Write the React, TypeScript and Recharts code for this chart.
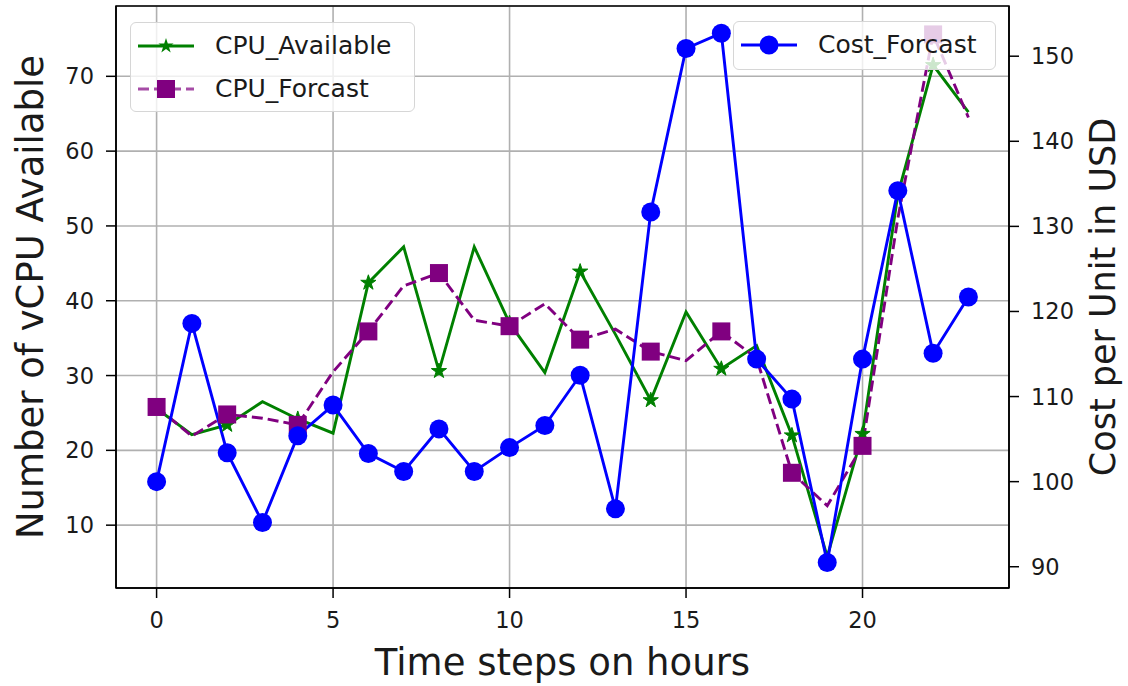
import React from 'react';
import {
  LineChart,
  Line,
  XAxis,
  YAxis,
  CartesianGrid,
  ReferenceArea,
} from 'recharts';

const HOURS = [0, 1, 2, 3, 4, 5, 6, 7, 8, 9, 10, 11, 12, 13, 14, 15, 16, 17, 18, 19, 20, 21, 22, 23];

const CPU_AVAILABLE = [
  25.6, 22.1, 23.4, 26.5, 24.2, 22.3, 42.4, 47.2, 30.6, 47.2, 37.0, 30.4,
  43.9, 35.5, 26.7, 38.5, 30.9, 34.0, 22.0, 5.8, 22.2, 54.2, 71.5, 65.2,
];

const CPU_FORCAST = [
  25.8, 21.9, 24.8, 24.3, 23.4, 30.5, 35.9, 42.0, 43.7, 37.4, 36.6, 39.6,
  34.8, 36.2, 33.2, 32.0, 35.9, 32.3, 17.0, 12.6, 20.6, 51.0, 75.6, 64.5,
];

const COST_FORCAST = [
  100.0, 118.6, 103.4, 95.2, 105.4, 109.0, 103.3, 101.2, 106.2, 101.2, 104.0, 106.6,
  112.5, 96.8, 131.7, 150.9, 152.7, 114.4, 109.7, 90.5, 114.4, 134.2, 115.1, 121.7,
];

const X_TICKS = [0, 5, 10, 15, 20];
const CPU_TICKS = [10, 20, 30, 40, 50, 60, 70];
const COST_TICKS = [90, 100, 110, 120, 130, 140, 150];

const X_DOMAIN: [number, number] = [-1.15, 24.15];
const CPU_DOMAIN: [number, number] = [1.6, 79.4];
const COST_DOMAIN: [number, number] = [87.5, 155.9];

// markers are drawn on every 2nd point of the CPU series
const MARK_EVERY = 2;

const GREEN = '#008000';
const PURPLE = '#800080';
const BLUE = '#0000ff';
const FONT = '"DejaVu Sans", Verdana, sans-serif';
const TEXT = '#1a1a1a';
const LINE_W = 2.9;

const data = HOURS.map((h, i) => ({
  hour: h,
  available: CPU_AVAILABLE[i],
  forcast: CPU_FORCAST[i],
  cost: COST_FORCAST[i],
}));

function starPath(cx: number, cy: number, R: number) {
  const r = R * 0.382;
  let d = '';
  for (let k = 0; k < 10; k++) {
    const rad = k % 2 === 0 ? R : r;
    const a = -Math.PI / 2 + (k * Math.PI) / 5;
    d += (k === 0 ? 'M' : 'L') + (cx + rad * Math.cos(a)).toFixed(2) + ',' + (cy + rad * Math.sin(a)).toFixed(2);
  }
  return d + 'Z';
}

const StarDot = (props: any) => {
  const { cx, cy, index } = props;
  if (cx == null || cy == null || index % MARK_EVERY !== 0) return <g key={`s-${index}`} />;
  return <path key={`s-${index}`} d={starPath(cx, cy, 8)} fill={GREEN} stroke={GREEN} strokeWidth={1} />;
};

const SquareDot = (props: any) => {
  const { cx, cy, index } = props;
  if (cx == null || cy == null || index % MARK_EVERY !== 0) return <g key={`q-${index}`} />;
  return <rect key={`q-${index}`} x={cx - 9} y={cy - 9} width={18} height={18} fill={PURPLE} />;
};

const CircleDot = (props: any) => {
  const { cx, cy, index } = props;
  if (cx == null || cy == null) return <g key={`c-${index}`} />;
  return <circle key={`c-${index}`} cx={cx} cy={cy} r={9.5} fill={BLUE} />;
};

const tickStyle = { fontSize: 22.5, fontFamily: FONT, fill: TEXT };
const labelStyle = { fontSize: 37, fontFamily: FONT, fill: TEXT };

function LegendIcon({ kind }: { kind: 'star' | 'square' | 'circle' }) {
  const color = kind === 'star' ? GREEN : kind === 'square' ? PURPLE : BLUE;
  return (
    <svg width={58} height={22} style={{ display: 'block' }}>
      <line
        x1={1}
        x2={57}
        y1={11}
        y2={11}
        stroke={color}
        strokeWidth={LINE_W}
        strokeDasharray={kind === 'square' ? '11 5' : undefined}
        strokeOpacity={kind === 'square' ? 0.7 : 1}
      />
      {kind === 'star' && <path d={starPath(29, 11, 8)} fill={color} />}
      {kind === 'square' && <rect x={20} y={2} width={18} height={18} fill={color} />}
      {kind === 'circle' && <circle cx={29} cy={11} r={9.5} fill={color} />}
    </svg>
  );
}

const legendBox: React.CSSProperties = {
  position: 'absolute',
  background: 'rgba(255,255,255,0.8)',
  border: '1.5px solid #d6d6d6',
  borderRadius: 6,
  boxSizing: 'border-box',
  fontFamily: FONT,
  fontSize: 25,
  color: TEXT,
};

function LegendRow({ kind, text, top }: { kind: 'star' | 'square' | 'circle'; text: string; top: number }) {
  return (
    <div style={{ position: 'absolute', left: 6, top, display: 'flex', alignItems: 'center', height: 30 }}>
      <LegendIcon kind={kind} />
      <span style={{ marginLeft: 20, lineHeight: '30px', whiteSpace: 'nowrap' }}>{text}</span>
    </div>
  );
}

export default function App() {
  return (
    <div style={{ position: 'absolute', left: 0, top: 0, width: 1128, height: 686, background: '#fff' }}>
      <LineChart width={1128} height={686} data={data} margin={{ top: 6, right: 0, bottom: 0, left: 0 }}>
        <CartesianGrid stroke="#b0b0b0" strokeWidth={1.6} yAxisId="left" />
        <XAxis
          dataKey="hour"
          type="number"
          domain={X_DOMAIN}
          ticks={X_TICKS}
          allowDataOverflow
          height={98}
          tickSize={10}
          tickMargin={14}
          tick={tickStyle}
          axisLine={{ stroke: '#000', strokeWidth: 1.5 }}
          tickLine={{ stroke: '#000', strokeWidth: 1.5 }}
          label={{
            content: (p: any) => {
              const vb = p.viewBox ?? { x: 116, y: 588, width: 893, height: 98 };
              return (
                <text x={vb.x + vb.width / 2} y={vb.y + 87} textAnchor="middle" style={labelStyle}>
                  Time steps on hours
                </text>
              );
            },
          }}
        />
        <YAxis
          yAxisId="left"
          orientation="left"
          domain={CPU_DOMAIN}
          ticks={CPU_TICKS}
          allowDataOverflow
          width={116}
          tickSize={10}
          tickMargin={12}
          tick={tickStyle}
          axisLine={{ stroke: '#000', strokeWidth: 1.5 }}
          tickLine={{ stroke: '#000', strokeWidth: 1.5 }}
          label={{
            content: (p: any) => {
              const vb = p.viewBox ?? { x: 0, y: 6, width: 116, height: 582 };
              const x = vb.x + 43;
              const y = vb.y + vb.height / 2;
              return (
                <text x={x} y={y} transform={`rotate(-90 ${x} ${y})`} textAnchor="middle" style={labelStyle}>
                  Number of vCPU Available
                </text>
              );
            },
          }}
        />
        <YAxis
          yAxisId="right"
          orientation="right"
          domain={COST_DOMAIN}
          ticks={COST_TICKS}
          allowDataOverflow
          width={119}
          tickSize={10}
          tickMargin={12}
          tick={tickStyle}
          axisLine={{ stroke: '#000', strokeWidth: 1.5 }}
          tickLine={{ stroke: '#000', strokeWidth: 1.5 }}
          label={{
            content: (p: any) => {
              const vb = p.viewBox ?? { x: 1009, y: 6, width: 119, height: 582 };
              const x = vb.x + 106;
              const y = vb.y + vb.height / 2;
              return (
                <text x={x} y={y} transform={`rotate(-90 ${x} ${y})`} textAnchor="middle" style={{ ...labelStyle, fontSize: 35 }}>
                  Cost per Unit in USD
                </text>
              );
            },
          }}
        />
        <ReferenceArea
          yAxisId="left"
          x1={X_DOMAIN[0]}
          x2={X_DOMAIN[1]}
          y1={CPU_DOMAIN[0]}
          y2={CPU_DOMAIN[1]}
          fill="none"
          fillOpacity={0}
          stroke="#000"
          strokeWidth={1.5}
          ifOverflow="visible"
        />
        <Line
          yAxisId="left"
          dataKey="available"
          name="CPU_Available"
          type="linear"
          stroke={GREEN}
          strokeWidth={LINE_W}
          dot={StarDot}
          activeDot={false}
          isAnimationActive={false}
        />
        <Line
          yAxisId="left"
          dataKey="forcast"
          name="CPU_Forcast"
          type="linear"
          stroke={PURPLE}
          strokeWidth={LINE_W}
          strokeDasharray="11 5"
          dot={SquareDot}
          activeDot={false}
          isAnimationActive={false}
        />
        <Line
          yAxisId="right"
          dataKey="cost"
          name="Cost_Forcast"
          type="linear"
          stroke={BLUE}
          strokeWidth={LINE_W}
          dot={CircleDot}
          activeDot={false}
          isAnimationActive={false}
        />
      </LineChart>
      <div style={{ ...legendBox, left: 130, top: 22, width: 285, height: 90 }}>
        <LegendRow kind="star" text="CPU_Available" top={8} />
        <LegendRow kind="square" text="CPU_Forcast" top={51} />
      </div>
      <div style={{ ...legendBox, left: 733, top: 21, width: 263, height: 49 }}>
        <LegendRow kind="circle" text="Cost_Forcast" top={8} />
      </div>
    </div>
  );
}
